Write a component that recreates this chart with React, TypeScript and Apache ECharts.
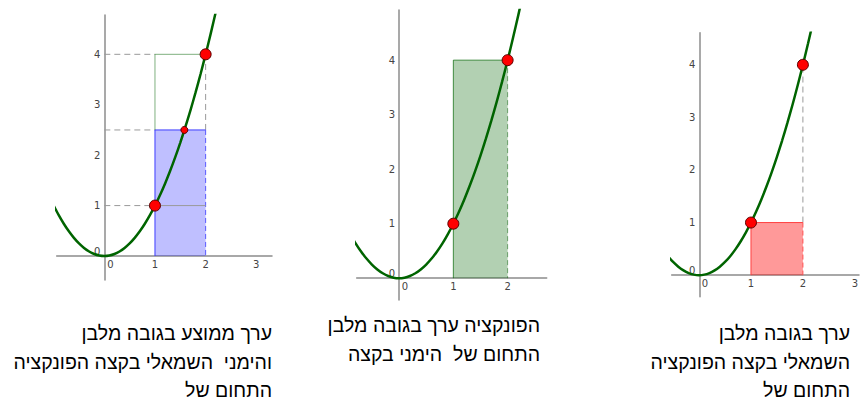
import React, { useEffect, useRef } from "react";
import * as echarts from "echarts";

const curveX = [-1.0, -0.9, -0.8, -0.7, -0.6, -0.5, -0.4, -0.3, -0.2, -0.1, 0, 0.1, 0.2, 0.3, 0.4, 0.5, 0.6, 0.7, 0.8, 0.9, 1.0, 1.1, 1.2, 1.3, 1.4, 1.5, 1.6, 1.7, 1.8, 1.9, 2.0, 2.1, 2.2, 2.3];
const curveY = [1.0, 0.81, 0.64, 0.49, 0.36, 0.25, 0.16, 0.09, 0.04, 0.01, 0, 0.01, 0.04, 0.09, 0.16, 0.25, 0.36, 0.49, 0.64, 0.81, 1.0, 1.21, 1.44, 1.69, 1.96, 2.25, 2.56, 2.89, 3.24, 3.61, 4.0, 4.41, 4.84, 5.29];

// Tick labels
const xTicksLeft = [0, 1, 2, 3];
const xTicksMid = [0, 1, 2];
const xTicksRight = [0, 1, 2, 3];
const yTicks = [0, 1, 2, 3, 4];

// Axis ranges [xmin, xmax, ymin, ymax]
const rangeLeft = [-0.94, 3.31, -0.476, 4.78];
const rangeMid = [-0.78, 2.72, -0.4, 4.92];
const rangeRight = [-0.527, 3.08, -0.41, 4.61];

// Rectangles [x0, x1, y0, y1]
const leftAvgRect = [1, 2, 0, 2.5];
const leftOutlineRect = [1, 2, 2.5, 4];
const midRect = [1, 2, 0, 4];
const rightRect = [1, 2, 0, 1];

// Guide segments [x0, y0, x1, y1]
const leftDashed = [[0, 4, 1, 4], [0, 2.5, 1, 2.5], [0, 1, 1, 1], [2, 2.5, 2, 4]];
const leftSolid = [[1, 1, 2, 1]];
const rightDashed = [[2, 1, 2, 4]];

// Points
const endPoints = [[1, 1], [2, 4]];
const midPoint = [[1.58, 2.5]];

// Captions (logical order)
const captionLeft = ["ערך ממוצע בגובה מלבן", "והימני \u00a0השמאלי בקצה הפונקציה", "התחום של"];
const captionMid = ["הפונקציה ערך בגובה מלבן", "התחום של \u00a0הימני בקצה"];
const captionRight = ["ערך בגובה מלבן", "השמאלי בקצה הפונקציה", "התחום של"];

const GREEN = "#006400";

const grids = [
  { left: 56.7, top: 15, width: 215.3, height: 265 },
  { left: 356.7, top: 10, width: 190, height: 290 },
  { left: 671.7, top: 32.7, width: 189.3, height: 264 },
];

function axisPair(i: number, range: number[], xt: number[]) {
  const g = grids[i];
  const labelCommon = { color: "#444", fontSize: 10, fontFamily: "DejaVu Sans" };
  // move axes from grid edges to the zero lines
  const yOff = -((0 - range[0]) / (range[1] - range[0])) * g.width;
  const xOff = -((0 - range[2]) / (range[3] - range[2])) * g.height;
  const xAxis = {
    type: "value",
    gridIndex: i,
    min: range[0],
    max: range[1],
    position: "bottom",
    offset: xOff,
    axisLine: { show: true, onZero: false, lineStyle: { color: "#8c8c8c", width: 1.5 } },
    axisTick: { show: false },
    splitLine: { show: false },
    axisLabel: {
      ...labelCommon,
      margin: 3,
      customValues: xt,
      formatter: (v: number) => (v === 0 ? "{o|0}" : String(v)),
      rich: { o: { ...labelCommon, padding: [0, 0, 0, 12] } },
    },
  };
  const yAxis = {
    type: "value",
    gridIndex: i,
    min: range[2],
    max: range[3],
    position: "left",
    offset: yOff,
    axisLine: { show: true, onZero: false, lineStyle: { color: "#8c8c8c", width: 1.5 } },
    axisTick: { show: false },
    splitLine: { show: false },
    axisLabel: {
      ...labelCommon,
      margin: 4,
      customValues: yTicks,
      formatter: (v: number) => (v === 0 ? "{o|0}" : String(v)),
      rich: { o: { ...labelCommon, padding: [0, 0, 9, 0] } },
    },
  };
  return { xAxis, yAxis };
}

function curveSeries(i: number) {
  return {
    type: "line",
    xAxisIndex: i,
    yAxisIndex: i,
    data: curveX.map((x, k) => [x, curveY[k]]),
    showSymbol: false,
    smooth: 0.3,
    clip: true,
    lineStyle: { color: GREEN, width: 2.5 },
    z: 5,
    silent: true,
  };
}

function rectSeries(i: number, rect: number[], fill: string, edge: string, rightEdge: string, z: number) {
  return {
    type: "custom",
    xAxisIndex: i,
    yAxisIndex: i,
    data: [rect],
    encode: { x: [0, 1], y: [2, 3] },
    z,
    silent: true,
    renderItem: (_p: any, api: any) => {
      const a = api.coord([api.value(0), api.value(3)]);
      const b = api.coord([api.value(1), api.value(2)]);
      return {
        type: "group",
        children: [
          { type: "rect", shape: { x: a[0], y: a[1], width: b[0] - a[0], height: b[1] - a[1] }, style: { fill, stroke: null } },
          { type: "polyline", shape: { points: [[a[0], b[1]], [a[0], a[1]], [b[0], a[1]]] }, style: { fill: null, stroke: edge, lineWidth: 1 } },
          { type: "line", shape: { x1: b[0], y1: a[1], x2: b[0], y2: b[1] }, style: { stroke: rightEdge, lineWidth: 1, lineDash: [5, 3] } },
        ],
      };
    },
  };
}

function segmentSeries(i: number, segs: number[][], color: string, dashed: boolean, z: number) {
  return {
    type: "custom",
    xAxisIndex: i,
    yAxisIndex: i,
    data: segs,
    encode: { x: [0, 2], y: [1, 3] },
    z,
    silent: true,
    renderItem: (_p: any, api: any) => {
      const a = api.coord([api.value(0), api.value(1)]);
      const b = api.coord([api.value(2), api.value(3)]);
      return {
        type: "line",
        shape: { x1: a[0], y1: a[1], x2: b[0], y2: b[1] },
        style: { stroke: color, lineWidth: 1, lineDash: dashed ? [6, 4] : null },
      };
    },
  };
}

function pointSeries(i: number, pts: number[][], size: number) {
  return {
    type: "scatter",
    xAxisIndex: i,
    yAxisIndex: i,
    data: pts,
    symbolSize: size,
    itemStyle: { color: "#ff0000", borderColor: "#5a0000", borderWidth: 1, opacity: 1 },
    z: 10,
    silent: true,
  };
}

function captionTexts(lines: string[], right: number, y0: number, step: number) {
  return lines.map((t, k) => ({
    type: "text",
    x: right,
    y: y0 + k * step,
    silent: true,
    style: {
      text: t,
      fill: "#000",
      fontSize: 19.5,
      fontFamily: "Liberation Sans",
      align: "right",
      verticalAlign: "middle",
      textAlign: "right",
      textVerticalAlign: "middle",
    },
  }));
}

export default function App() {
  const ref = useRef<HTMLDivElement>(null);
  useEffect(() => {
    if (!ref.current) return;
    const chart = echarts.init(ref.current, null, { renderer: "svg" });
    const a0 = axisPair(0, rangeLeft, xTicksLeft);
    const a1 = axisPair(1, rangeMid, xTicksMid);
    const a2 = axisPair(2, rangeRight, xTicksRight);
    chart.setOption({
      animation: false,
      backgroundColor: "#ffffff",
      grid: grids,
      xAxis: [a0.xAxis, a1.xAxis, a2.xAxis],
      yAxis: [a0.yAxis, a1.yAxis, a2.yAxis],
      series: [
        // left panel
        segmentSeries(0, leftDashed, "#9a9a9a", true, 2),
        segmentSeries(0, leftSolid, "#9a9a9a", false, 4),
        rectSeries(0, leftAvgRect, "rgba(0,0,255,0.25)", "#3c3cff", "#5a5aff", 3),
        rectSeries(0, leftOutlineRect, "rgba(0,0,0,0)", "rgba(0,100,0,0.5)", "rgba(0,0,0,0)", 3),
        curveSeries(0),
        pointSeries(0, endPoints, 11),
        pointSeries(0, midPoint, 7),
        // middle panel
        rectSeries(1, midRect, "rgba(0,100,0,0.3)", "rgba(0,100,0,0.7)", "rgba(0,90,0,0.5)", 3),
        curveSeries(1),
        pointSeries(1, endPoints, 11),
        // right panel
        segmentSeries(2, rightDashed, "#9a9a9a", true, 2),
        rectSeries(2, rightRect, "rgba(255,0,0,0.4)", "#ff4040", "#ff5050", 3),
        curveSeries(2),
        pointSeries(2, endPoints, 11),
      ],
      graphic: [
        ...captionTexts(captionLeft, 272, 333, 28.5),
        ...captionTexts(captionMid, 540, 325, 28.5),
        ...captionTexts(captionRight, 850, 333, 28.5),
      ],
    });
    return () => chart.dispose();
  }, []);
  return (
    <div
      ref={ref}
      style={{ position: "absolute", left: 0, top: 0, width: 861, height: 401, background: "#fff" }}
    />
  );
}
